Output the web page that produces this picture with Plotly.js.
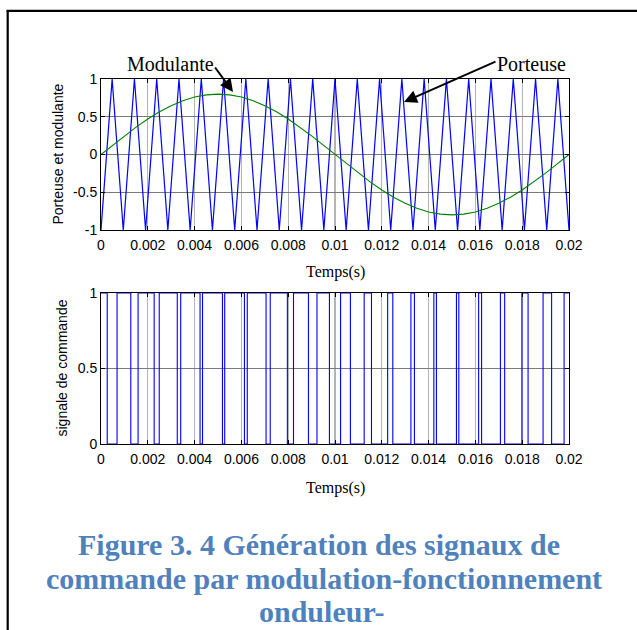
<!DOCTYPE html>
<html>
<head>
<meta charset="utf-8">
<script src="https://cdn.plot.ly/plotly-3.0.1.min.js"></script>
<style>
  html, body { margin: 0; padding: 0; background: #ffffff; }
  #fig { width: 637px; height: 630px; }
</style>
</head>
<body>
<div id="fig"></div>
<script>
// ---- Data (times in milliseconds) ----

// Triangular carrier (porteuse): vertex times and levels
const carrierTimeMs = [0, 0.476, 0.952, 1.429, 1.905, 2.381, 2.857, 3.333, 3.810, 4.286,
  4.762, 5.238, 5.714, 6.190, 6.667, 7.143, 7.619, 8.095, 8.571, 9.048, 9.524, 10.000,
  10.476, 10.952, 11.429, 11.905, 12.381, 12.857, 13.333, 13.810, 14.286, 14.762, 15.238,
  15.714, 16.190, 16.667, 17.143, 17.619, 18.095, 18.571, 19.048, 19.524, 20.000];
const carrierLevel = [-1, 1, -1, 1, -1, 1, -1, 1, -1, 1, -1, 1, -1, 1, -1, 1, -1, 1, -1, 1,
  -1, 1, -1, 1, -1, 1, -1, 1, -1, 1, -1, 1, -1, 1, -1, 1, -1, 1, -1, 1, -1, 1, -1];

// Sinusoidal reference (modulante)
const modTimeMs = [0, 0.5, 1, 1.5, 2, 2.5, 3, 3.5, 4, 4.5, 5, 5.5, 6, 6.5, 7, 7.5, 8, 8.5, 9,
  9.5, 10, 10.5, 11, 11.5, 12, 12.5, 13, 13.5, 14, 14.5, 15, 15.5, 16, 16.5, 17, 17.5, 18,
  18.5, 19, 19.5, 20];
const modLevel = [0, 0.125, 0.247, 0.363, 0.470, 0.566, 0.647, 0.713, 0.761, 0.790, 0.800,
  0.790, 0.761, 0.713, 0.647, 0.566, 0.470, 0.363, 0.247, 0.125, 0, -0.125, -0.247, -0.363,
  -0.470, -0.566, -0.647, -0.713, -0.761, -0.790, -0.800, -0.790, -0.761, -0.713, -0.647,
  -0.566, -0.470, -0.363, -0.247, -0.125, 0];

// Control signal: intervals where the command is 0 (otherwise 1)
const lowFromMs = [0.266, 1.273, 2.272, 3.260, 4.233, 5.190, 6.130, 7.054, 7.964, 8.866,
  9.762, 10.658, 11.559, 12.470, 13.394, 14.334, 15.291, 16.264, 17.251, 18.251, 19.257];
const lowToMs = [0.686, 1.584, 2.489, 3.406, 4.338, 5.286, 6.251, 7.232, 8.226, 9.230,
  10.238, 11.247, 12.250, 13.244, 14.225, 15.190, 16.138, 17.070, 17.987, 18.892, 19.790];

// Axis ticks
const xTickVals = [0, 0.002, 0.004, 0.006, 0.008, 0.01, 0.012, 0.014, 0.016, 0.018, 0.02];
const xTickText = ['0', '0.002', '0.004', '0.006', '0.008', '0.01', '0.012', '0.014', '0.016', '0.018', '0.02'];
const y1TickVals = [-1, -0.5, 0, 0.5, 1];
const y1TickText = ['-1', '-0.5', '0', '0.5', '1'];
const y2TickVals = [0, 0.5, 1];
const y2TickText = ['0', '0.5', '1'];

// ---- Build traces ----
const ms = v => v / 1000;

const cmdX = [0], cmdY = [1];
for (let i = 0; i < lowFromMs.length; i++) {
  cmdX.push(ms(lowFromMs[i]), ms(lowFromMs[i]), ms(lowToMs[i]), ms(lowToMs[i]));
  cmdY.push(1, 0, 0, 1);
}
cmdX.push(0.02); cmdY.push(1);

const traces = [
  { x: carrierTimeMs.map(ms), y: carrierLevel, type: 'scatter', mode: 'lines',
    line: { color: '#0000ff', width: 1.2 }, xaxis: 'x', yaxis: 'y', hoverinfo: 'skip' },
  { x: modTimeMs.map(ms), y: modLevel, type: 'scatter', mode: 'lines',
    line: { color: '#008000', width: 1.1 }, xaxis: 'x', yaxis: 'y', hoverinfo: 'skip' },
  { x: cmdX, y: cmdY, type: 'scatter', mode: 'lines',
    line: { color: '#0000ff', width: 1.1 }, xaxis: 'x2', yaxis: 'y2', hoverinfo: 'skip' }
];

// ---- Layout helpers (pixel -> paper) ----
const W = 637, H = 630;
const px = v => v / W;
const py = v => 1 - v / H;

const tickFont = { family: 'Liberation Sans, Arial, sans-serif', size: 14, color: '#000000' };
const serif = 'Liberation Serif, Times New Roman, serif';

function axisStyle(extra) {
  return Object.assign({
    showline: true, linecolor: '#000000', linewidth: 1, mirror: 'ticks',
    ticks: 'inside', ticklen: 4, tickwidth: 1, tickcolor: '#000000',
    zeroline: false, showgrid: true, tickfont: tickFont, fixedrange: true,
    tickmode: 'array'
  }, extra);
}

const plotL = px(101), plotR = px(569);
const captionFont = { family: serif, size: 30, color: '#4f81bd', weight: 'bold' };

const layout = {
  width: W, height: H,
  margin: { l: 0, r: 0, t: 0, b: 0 },
  paper_bgcolor: '#ffffff', plot_bgcolor: '#ffffff',
  showlegend: false,
  xaxis: axisStyle({ domain: [plotL, plotR], anchor: 'y', range: [0, 0.02],
    tickvals: xTickVals, ticktext: xTickText, gridcolor: '#b4b4b4', gridwidth: 1.3,
    ticklabelstandoff: 2 }),
  yaxis: axisStyle({ domain: [py(230), py(79)], anchor: 'x', range: [-1, 1],
    tickvals: y1TickVals, ticktext: y1TickText, gridcolor: '#7a7a7a', gridwidth: 1 }),
  xaxis2: axisStyle({ domain: [plotL, plotR], anchor: 'y2', range: [0, 0.02],
    tickvals: xTickVals, ticktext: xTickText, gridcolor: '#b4b4b4', gridwidth: 1.3,
    ticklabelstandoff: 2 }),
  yaxis2: axisStyle({ domain: [py(444), py(293)], anchor: 'x2', range: [0, 1],
    tickvals: y2TickVals, ticktext: y2TickText, gridcolor: '#7a7a7a', gridwidth: 1 }),
  shapes: [
    // page frame
    { type: 'line', xref: 'paper', yref: 'paper', x0: px(7.7), x1: px(7.7), y0: py(10), y1: py(632),
      line: { color: '#000000', width: 2.2 } },
    { type: 'line', xref: 'paper', yref: 'paper', x0: px(6.6), x1: px(640), y0: py(10.8), y1: py(10.8),
      line: { color: '#000000', width: 2.2 } }
  ],
  annotations: [
    { text: 'Modulante', xref: 'paper', yref: 'paper', x: px(170), y: py(64),
      xanchor: 'center', yanchor: 'middle', showarrow: false,
      font: { family: serif, size: 20, color: '#000000' } },
    { text: 'Porteuse', xref: 'paper', yref: 'paper', x: px(531), y: py(64),
      xanchor: 'center', yanchor: 'middle', showarrow: false,
      font: { family: serif, size: 20, color: '#000000' } },
    { text: '', xref: 'paper', yref: 'paper', x: px(233), y: py(92), ax: -19, ay: -26,
      showarrow: true, arrowhead: 2, arrowsize: 1.3, arrowwidth: 2, arrowcolor: '#000000' },
    { text: '', xref: 'paper', yref: 'paper', x: px(404), y: py(102), ax: 93, ay: -41,
      showarrow: true, arrowhead: 2, arrowsize: 1.3, arrowwidth: 2, arrowcolor: '#000000' },
    { text: 'Temps(s)', xref: 'paper', yref: 'paper', x: px(335), y: py(272),
      xanchor: 'center', yanchor: 'middle', showarrow: false,
      font: { family: serif, size: 16, color: '#000000' } },
    { text: 'Temps(s)', xref: 'paper', yref: 'paper', x: px(335), y: py(488),
      xanchor: 'center', yanchor: 'middle', showarrow: false,
      font: { family: serif, size: 16, color: '#000000' } },
    { text: 'Porteuse et modulante', xref: 'paper', yref: 'paper', x: px(57), y: py(154.5),
      xanchor: 'center', yanchor: 'middle', textangle: -90, showarrow: false,
      font: { family: 'Liberation Sans, Arial, sans-serif', size: 14, color: '#000000' } },
    { text: 'signale de commande', xref: 'paper', yref: 'paper', x: px(61), y: py(368.5),
      xanchor: 'center', yanchor: 'middle', textangle: -90, showarrow: false,
      font: { family: 'Liberation Sans, Arial, sans-serif', size: 14, color: '#000000' } },
    { text: 'Figure 3. 4 Génération des signaux de', xref: 'paper', yref: 'paper',
      x: px(319), y: py(544), xanchor: 'center', yanchor: 'middle', showarrow: false,
      font: captionFont },
    { text: 'commande par modulation-fonctionnement', xref: 'paper', yref: 'paper',
      x: px(324), y: py(578), xanchor: 'center', yanchor: 'middle', showarrow: false,
      font: captionFont },
    { text: 'onduleur-', xref: 'paper', yref: 'paper',
      x: px(322), y: py(611), xanchor: 'center', yanchor: 'middle', showarrow: false,
      font: captionFont }
  ]
};

Plotly.newPlot('fig', traces, layout, { staticPlot: true, displayModeBar: false });
</script>
</body>
</html>
